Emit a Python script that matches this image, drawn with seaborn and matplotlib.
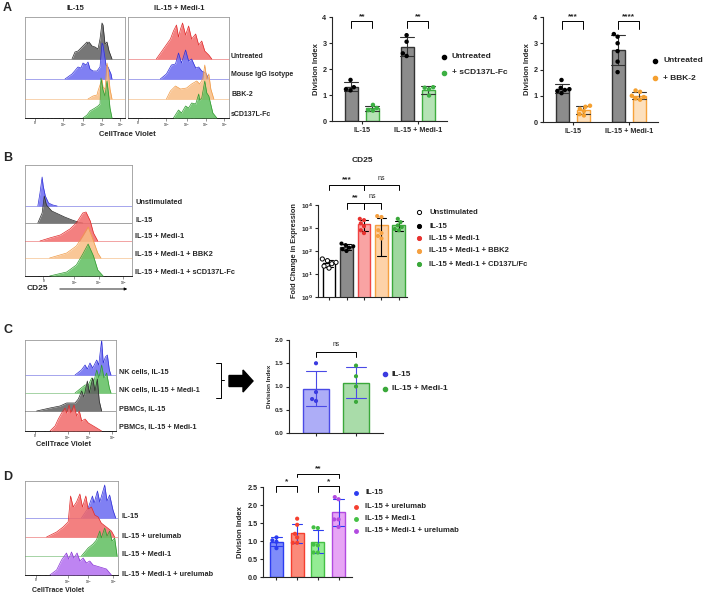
import numpy as np
import pandas as pd
import seaborn as sns
import matplotlib.pyplot as plt

sns.set_theme(style="ticks")
plt.rcParams['font.family'] = ['Liberation Sans', 'DejaVu Sans']
plt.rcParams['font.weight'] = 'bold'
plt.rcParams['axes.labelweight'] = 'bold'
plt.rcParams['axes.linewidth'] = 0.8

# ---------------- data: bar charts ----------------
groups = ["IL-15", "IL-15 + Medi-1"]

# A, left bar chart (Untreated vs + sCD137L-Fc)
a1_labels = ["Untreated", "+ sCD137L-Fc"]
a1_untr = [[1.58, 1.30, 1.22, 1.18], [3.30, 3.05, 2.60, 2.50]]
a1_trt = [[0.62, 0.50, 0.42, 0.40], [1.30, 1.28, 1.22, 0.98]]

# A, right bar chart (Untreated vs + BBK-2)
a2_labels = ["Untreated", "+ BBK-2"]
a2_untr = [[1.60, 1.30, 1.25, 1.22, 1.18, 1.10], [3.35, 3.25, 3.00, 2.70, 2.30, 1.90]]
a2_trt = [[0.62, 0.58, 0.50, 0.42, 0.30, 0.25], [1.20, 1.15, 1.00, 0.95, 0.90, 0.85]]

# B, CD25 fold change
b_conds = ["Unstimulated", "IL-15", "IL-15 + Medi-1", "IL-15 + Medi-1 + BBK2",
           "IL-15 + Medi-1 + CD137L/Fc"]
b_vals = [[45, 38, 32, 28, 22, 18],
          [210, 180, 160, 140, 120, 100],
          [2500, 2200, 1600, 1200, 800, 600],
          [3300, 3000, 800, 600, 450, 350],
          [2500, 1800, 1300, 1100, 900, 800]]

# C, division index
c_conds = ["IL-15", "IL-15 + Medi-1"]
c_vals = [[1.50, 0.88, 0.73, 0.69], [1.45, 1.22, 1.00, 0.67]]

# D, division index
d_conds = ["IL-15", "IL-15 + urelumab", "IL-15 + Medi-1", "IL-15 + Medi-1 + urelumab"]
d_vals = [[1.10, 1.02, 0.98, 0.80],
          [1.62, 1.45, 1.20, 1.10, 0.95, 0.95],
          [1.38, 1.36, 0.90, 0.88, 0.68, 0.68],
          [2.22, 2.16, 1.60, 1.60, 1.39]]

# ---------------- data: flow histograms (x = % of channel axis, h = height) ----------------
a_rows = ["Untreated", "Mouse IgG Isotype", "BBK-2", "sCD137L-Fc"]
a_il15_x = [[47, 50, 53, 57, 59, 62, 63, 64, 67, 70, 73, 75, 77, 78, 80, 82, 84, 87],
            [40, 47, 53, 56, 58, 61, 63, 65, 68, 72, 75, 77, 78, 81, 83, 86, 87],
            [63, 68, 72, 73, 75, 77, 78, 80, 82, 83, 85, 87],
            [58, 62, 65, 70, 73, 75, 76, 78, 80, 82, 84, 85, 87]]
a_il15_h = [[0, 7, 8, 12, 14, 17, 15, 17, 13, 12, 10, 20, 36, 34, 15, 17, 8, 0],
            [0, 5, 12, 11, 16, 14, 17, 10, 8, 8, 12, 36, 34, 14, 12, 5, 0],
            [0, 3, 4, 8, 14, 20, 12, 10, 36, 30, 10, 0],
            [0, 3, 7, 10, 12, 14, 40, 28, 22, 37, 20, 10, 0]]
a_medi_x = [[28, 35, 42, 45, 48, 50, 52, 54, 57, 60, 63, 67, 70, 73, 76, 80, 83],
            [32, 38, 43, 47, 50, 53, 57, 60, 63, 67, 70, 73, 77, 80],
            [38, 42, 47, 52, 58, 63, 68, 71, 74, 76, 78, 80, 82, 85],
            [45, 50, 53, 57, 60, 63, 67, 70, 71, 73, 76, 78, 80, 84, 88]]
a_medi_h = [[0, 10, 20, 28, 34, 22, 30, 36, 24, 33, 20, 25, 14, 18, 8, 4, 0],
            [0, 5, 14, 15, 26, 16, 29, 18, 20, 11, 12, 8, 6, 0],
            [0, 8, 13, 10, 11, 15, 18, 15, 20, 34, 20, 25, 10, 0],
            [0, 8, 5, 12, 10, 15, 14, 24, 18, 20, 37, 25, 22, 5, 0]]

b_rows = ["Unstimulated", "IL-15", "IL-15 + Medi-1", "IL-15 + Medi-1 + BBK2",
          "IL-15 + Medi-1 + sCD137L-Fc"]
b_x = [[12, 14, 16, 17, 19, 22, 26, 30],
       [12, 16, 18, 20, 25, 31, 37, 44, 51, 54],
       [14, 23, 33, 42, 48, 54, 57, 61, 64, 67, 68],
       [23, 39, 48, 54, 59, 64, 68, 71],
       [23, 39, 48, 54, 59, 64, 68, 73]]
b_h = [[0, 13, 29, 20, 10, 3, 1, 0],
       [0, 10, 27, 18, 12, 9, 6, 3, 0.5, 0],
       [0, 3, 6, 12, 18, 28, 29, 20, 8, 2, 0],
       [0, 5, 12, 22, 31, 17, 5, 0],
       [0, 4, 11, 22, 32, 20, 6, 0]]

c_rows = ["NK cells, IL-15", "NK cells, IL-15 + Medi-1", "PBMCs, IL-15", "PBMCs, IL-15 + Medi-1"]
c_x = [[55, 62, 66, 68.5, 71.4, 74.4, 78.8, 81, 84.2, 86, 88.3, 90.5, 92.7, 94.5],
       [55, 60.4, 66, 69.5, 73.3, 75.8, 78.8, 81.3, 84.2, 86.8, 89.7, 92.7, 94.5],
       [12.8, 27.5, 38.5, 45.8, 51.3, 55, 58.6, 62.3, 64.8, 68.5, 70.7, 74.4, 76.9, 79.5,
        81.6, 84.2],
       [27.5, 33, 36.6, 40.3, 44, 45.8, 48.4, 50.5, 53.8, 56.8, 59.7, 62.3, 66, 69.6, 73.3,
        77, 82.4, 84.2]]
c_h = [[0, 5, 10, 6, 12, 7, 15, 10, 35, 12, 18, 20, 5, 0],
       [0, 4, 8, 8, 15, 12, 23, 15, 28, 15, 20, 5, 0],
       [0, 3, 5, 8, 8, 8, 12, 20, 14, 30, 18, 33, 20, 32, 10, 0],
       [0, 5, 12, 18, 23, 18, 26, 18, 26, 15, 20, 10, 12, 8, 6, 4, 1, 0]]

d_rows = ["IL-15", "IL-15 + urelumab", "IL-15 + Medi-1", "IL-15 + Medi-1 + urelumab"]
d_x = [[60.7, 67.9, 72.5, 74.3, 77.9, 80.4, 85.7, 88.2, 91, 94.6, 97.5],
       [23.2, 34, 41, 46.4, 49, 51.8, 55.4, 59, 61.8, 65.4, 67.9, 71.4, 75, 78.6, 82, 87.5,
        92.9, 96.4],
       [60.7, 67.9, 73.2, 76.8, 80.4, 82, 85.7, 88.2, 91, 93.6, 96.4, 99],
       [26.8, 34, 39.3, 44.6, 47, 50, 52.5, 56, 59, 62.5, 66, 69.6, 73.2, 76.8, 80.4, 87.5,
        92.9]]
d_h = [[0, 10, 22, 15, 27, 16, 33, 17, 23, 8, 0],
       [0, 5, 10, 15, 41, 30, 35, 43, 30, 41, 28, 30, 22, 20, 14, 10, 6, 0],
       [0, 8, 12, 16, 25, 18, 28, 20, 25, 15, 18, 0],
       [0, 5, 15, 22, 16, 23, 17, 22, 14, 17, 12, 14, 10, 9, 8, 6, 0]]

# ---------------- styling ----------------
HC = {'gray': ('#5f5f5f', '#2a2a2a'), 'blue': ('#6a6af2', '#2e2ed6'),
      'red': ('#f26a6a', '#e02a2a'), 'orange': ('#f8bd85', '#f09a45'),
      'green': ('#5fbf5f', '#2f9a2f'), 'purple': ('#b36ff0', '#8a35d6')}

W, H = 704, 594
fig = plt.figure(figsize=(W / 100, H / 100), dpi=100)


def px_axes(x0, y0, x1, y1):
    return fig.add_axes([x0 / W, 1 - y1 / H, (x1 - x0) / W, (y1 - y0) / H])


def hist_stack(box, xs, hs, bases, colors, ticks, ticklabels):
    ax = px_axes(*box)
    height = box[3] - box[1]
    for i, (x, h, b, c) in enumerate(zip(xs, hs, bases, colors)):
        fc, ec = HC[c]
        ax.axhline(b, color=ec, lw=0.5, alpha=0.6, zorder=1 + i)
        top = np.asarray(h) + b
        ax.fill_between(x, b, top, color=fc, alpha=0.85, lw=0, zorder=2 + i)
        ax.plot(x, top, color=ec, lw=0.5, zorder=2 + i)
    ax.set_xlim(0, 100)
    ax.set_ylim(0, height)
    ax.set_yticks([])
    ax.set_xticks(ticks, ticklabels)
    # logicle-like minor ticks between the decade marks
    minors = []
    for a, b in zip(ticks[:-1], ticks[1:]):
        minors += list(np.log10(np.arange(2, 10)) * (b - a) + a)
    minors += [ticks[0] - 4, ticks[0] - 2, ticks[0] + 2, ticks[0] + 4]
    ax.set_xticks(minors, minor=True)
    ax.tick_params(axis='x', which='major', labelsize=2.2, length=2, width=0.4, pad=0.5,
                   colors='#444444')
    ax.tick_params(axis='x', which='minor', length=1, width=0.3, colors='#444444')
    for s in ax.spines.values():
        s.set_color('#9a9a9a')
        s.set_linewidth(0.6)
    ax.spines['bottom'].set_color('black')
    return ax


def recolor(ax, faces, edges):
    centers = []
    for cont, fc, ec in zip(ax.containers, faces, edges):
        for p in cont:
            p.set_facecolor(fc)
            p.set_edgecolor(ec)
            p.set_linewidth(1.0)
            centers.append((p.get_x() + p.get_width() / 2, ec))
    for ln in ax.lines:
        xm = np.mean(ln.get_xdata())
        c = min(centers, key=lambda t: abs(t[0] - xm))[1]
        ln.set_color(c)
        ln.set_linewidth(0.8)


def style_bar(ax, fs=5.2):
    sns.despine(ax=ax)
    ax.tick_params(axis='both', labelsize=fs, width=0.8, length=2.5, pad=1.5)
    ax.set_xlabel('')
    for lab in ax.get_xticklabels() + ax.get_yticklabels():
        lab.set_fontweight('bold')


def bracket(ax, x0, x1, y, yl0, yl1, label, yt, fs=6, weight='bold'):
    ax.plot([x0, x0, x1, x1], [yl0, y, y, yl1], color='black', lw=0.7, clip_on=False)
    ax.text((x0 + x1) / 2, yt, label, ha='center', va='center', fontsize=fs,
            fontweight=weight, clip_on=False)


def long_df(names, vals):
    rows = []
    for n, v in zip(names, vals):
        for y in v:
            rows.append({'cond': n, 'val': y})
    return pd.DataFrame(rows)


# overlay axis in pixel coordinates for free text
ov = fig.add_axes([0, 0, 1, 1], zorder=10)
ov.set_xlim(0, W)
ov.set_ylim(H, 0)
ov.axis('off')

# ---------------- panel A ----------------
hist_stack((25, 17, 125, 118), a_il15_x, a_il15_h, [59, 39, 19, 0],
           ['gray', 'blue', 'orange', 'green'],
           [10, 38, 58, 77, 95], ['0', '10$^3$', '10$^4$', '10$^5$', '10$^6$'])
hist_stack((128, 17, 229, 118), a_medi_x, a_medi_h, [59, 39, 19, 0],
           ['red', 'blue', 'orange', 'green'],
           [10, 38, 58, 77, 95], ['0', '10$^3$', '10$^4$', '10$^5$', '10$^6$'])
ov.text(75, 9, "IL-15", ha='center', va='center', fontsize=5.5)
ov.text(179, 9, "IL-15 + Medi-1", ha='center', va='center', fontsize=5.5)
for lab, y in zip(a_rows, [56, 75, 95, 114]):
    ov.text(231, y, lab, ha='left', va='center', fontsize=5)
ov.text(127, 134, "CellTrace Violet", ha='center', va='center', fontsize=5.5)


def a_bar(box, labels, untr, trt, pcolor, face, edge, star_l, star_r, lbl_y):
    ax = px_axes(*box)
    rows = []
    for g, u, t in zip(groups, untr, trt):
        for y in u:
            rows.append({'group': g, 'treat': labels[0], 'val': y})
        for y in t:
            rows.append({'group': g, 'treat': labels[1], 'val': y})
    df = pd.DataFrame(rows)
    sns.barplot(data=df, x='group', y='val', hue='treat', order=groups, hue_order=labels,
                errorbar='sd', capsize=0.5, width=0.75, gap=0.38, legend=False, ax=ax,
                err_kws={'linewidth': 0.8})
    recolor(ax, ['#8c8c8c', face], ['#333333', edge])
    sns.swarmplot(data=df, x='group', y='val', hue='treat', order=groups, hue_order=labels,
                  dodge=True, palette=['black', pcolor], size=3.2, legend=False, ax=ax)
    ax.set_ylim(0, 4)
    ax.set_yticks([0, 1, 2, 3, 4])
    ax.set_xlim(-0.53, 1.52)
    ax.set_ylabel("Division Index", fontsize=5.5, labelpad=2)
    style_bar(ax)
    for gx, s in zip([0, 1], [star_l, star_r]):
        bracket(ax, gx - 0.19, gx + 0.19, 3.85, 3.56, 3.56, s, 4.02)
    for lab, c, y in zip(labels, ['black', pcolor], lbl_y):
        ov.plot([box[2] - 3], [y], 'o', ms=3, color=c)
        ov.text(box[2] + 5, y, lab, ha='left', va='center', fontsize=6)
    return ax


a_bar((332, 17, 447, 121), a1_labels, a1_untr, a1_trt, '#3cb043', '#b5e3b5', '#3fae3f',
      '**', '**', [57, 73])
a_bar((543, 17, 658, 122), a2_labels, a2_untr, a2_trt, '#f5a030', '#fde0bd', '#f6a23a',
      '***', '****', [61, 78])

# ---------------- panel B ----------------
hist_stack((25, 165, 132, 276), b_x, b_h, [70, 53, 35, 18, 0],
           ['blue', 'gray', 'red', 'orange', 'green'],
           [17, 46, 69, 92], ['0', '10$^3$', '10$^4$', '10$^5$'])
for lab, y in zip(b_rows, [203, 220, 237, 254, 272]):
    ov.text(135, y, lab, ha='left', va='center', fontsize=5.3)
ov.text(27, 289, "CD25", ha='left', va='center', fontsize=6)
ov.annotate('', xy=(130, 289), xytext=(57, 289),
            arrowprops=dict(arrowstyle='-|>', lw=0.6, color='black', mutation_scale=4))

ax = px_axes(318, 205, 407, 297)
dfb = long_df(b_conds, b_vals)
b_face = ['white', '#8c8c8c', '#f9a3a3', '#fdd2a8', '#9fd89f']
b_edge = ['black', '#333333', '#f04545', '#f5a040', '#3aa83a']
b_pts = ['white', 'black', '#e8322f', '#f5a040', '#3aa83a']
sns.barplot(data=dfb, x='cond', y='val', hue='cond', order=b_conds, hue_order=b_conds,
            errorbar='sd', capsize=0.5, width=0.74, legend=False, ax=ax, err_kws={'linewidth': 0.8})
recolor(ax, b_face, b_edge)
ax.set_yscale('log')
sns.swarmplot(data=dfb, x='cond', y='val', hue='cond', order=b_conds, hue_order=b_conds,
              palette=b_pts, size=3, legend=False, ax=ax)
ax.collections[0].set_edgecolor('black')
ax.collections[0].set_linewidth(0.7)
ax.set_ylim(1, 1e4)
ax.set_xlim(-0.63, 4.46)
ax.set_yticks([1, 10, 100, 1000, 10000], ['10$^0$', '10$^1$', '10$^2$', '10$^3$', '10$^4$'])
ax.minorticks_off()
ax.set_xticklabels([])
ax.set_ylabel("Fold Change in Expression", fontsize=5.3, labelpad=2)
style_bar(ax, fs=4.5)
ov.text(362, 161, "CD25", ha='center', va='center', fontsize=6)
bracket(ax, 0, 2, 10 ** 4.87, 10 ** 4.65, 10 ** 4.65, '***', 10 ** 5.1)
bracket(ax, 2, 4, 10 ** 4.87, 10 ** 4.65, 10 ** 4.65, 'ns', 10 ** 5.15, fs=5, weight='normal')
bracket(ax, 1, 2, 10 ** 4.09, 10 ** 3.83, 10 ** 3.83, '**', 10 ** 4.3)
bracket(ax, 2, 3, 10 ** 4.09, 10 ** 3.83, 10 ** 3.83, 'ns', 10 ** 4.37, fs=5, weight='normal')
for lab, c, y in zip(b_conds, b_pts, [212, 226, 238, 251, 264]):
    ov.plot([419], [y], 'o', ms=3, color=c, mec='black' if c == 'white' else c, mew=0.7)
    ov.text(429, y, lab, ha='left', va='center', fontsize=5.5)

# ---------------- panel C ----------------
hist_stack((25, 340, 116, 431), c_x, c_h, [56, 38, 20, 0],
           ['blue', 'green', 'gray', 'red'],
           [11, 47, 70, 96], ['0', '10$^3$', '10$^4$', '10$^5$'])
for lab, y in zip(c_rows, [372, 390, 409, 427]):
    ov.text(119, y, lab, ha='left', va='center', fontsize=5.2)
ov.text(63, 445, "CellTrace Violet", ha='center', va='center', fontsize=5.3)
ov.plot([216, 221, 221, 216], [363, 363, 398, 398], color='black', lw=0.7)
ov.plot([221, 224], [380, 380], color='black', lw=0.7)
ov.arrow(229, 381, 24, 0, width=11, head_width=22, head_length=10,
         length_includes_head=True, color='black')

ax = px_axes(289, 340, 383, 433)
dfc = long_df(c_conds, c_vals)
c_edge = ['#4a4ae6', '#3aa83a']
sns.barplot(data=dfc, x='cond', y='val', hue='cond', order=c_conds, hue_order=c_conds,
            errorbar='sd', capsize=0.5, width=0.65, legend=False, ax=ax, err_kws={'linewidth': 0.8})
recolor(ax, ['#adadf7', '#a9dca9'], c_edge)
sns.swarmplot(data=dfc, x='cond', y='val', hue='cond', order=c_conds, hue_order=c_conds,
              palette=['#3b3be0', '#3aa83a'], size=3, legend=False, ax=ax)
ax.set_ylim(0, 2)
ax.set_yticks([0, 0.5, 1.0, 1.5, 2.0], ['0.0', '0.5', '1.0', '1.5', '2.0'])
ax.set_xlim(-0.675, 1.675)
ax.set_xticklabels([])
ax.set_ylabel("Division Index", fontsize=4.6, labelpad=2)
style_bar(ax, fs=4.5)
bracket(ax, 0, 1, 1.74, 1.63, 1.63, 'ns', 1.9, fs=4.8, weight='normal')
for lab, c, y in zip(c_conds, ['#3b3be0', '#3aa83a'], [374, 389]):
    ov.plot([385], [y], 'o', ms=3, color=c)
    ov.text(392, y, lab, ha='left', va='center', fontsize=6)

# ---------------- panel D ----------------
hist_stack((25, 481, 118, 575), d_x, d_h, [57, 38, 19, 0],
           ['blue', 'red', 'green', 'purple'],
           [12, 46, 68, 95], ['0', '10$^3$', '10$^4$', '10$^5$'])
for lab, y in zip(d_rows, [516, 536, 555, 574]):
    ov.text(122, y, lab, ha='left', va='center', fontsize=5.3)
ov.text(58, 590, "CellTrace Violet", ha='center', va='center', fontsize=5)

ax = px_axes(263, 487, 352, 577)
dfd = long_df(d_conds, d_vals)
d_face = ['#7f8cfa', '#fb8a7a', '#94ec94', '#e7a5f5']
d_edge = ['#2c3cf0', '#f53f2f', '#44c044', '#b24ae0']
sns.barplot(data=dfd, x='cond', y='val', hue='cond', order=d_conds, hue_order=d_conds,
            errorbar='sd', capsize=0.5, width=0.63, legend=False, ax=ax, err_kws={'linewidth': 0.8})
recolor(ax, d_face, d_edge)
sns.swarmplot(data=dfd, x='cond', y='val', hue='cond', order=d_conds, hue_order=d_conds,
              palette=d_edge, size=3, legend=False, ax=ax)
ax.set_ylim(0, 2.5)
ax.set_yticks([0, 0.5, 1.0, 1.5, 2.0, 2.5], ['0.0', '0.5', '1.0', '1.5', '2.0', '2.5'])
ax.set_xlim(-0.65, 3.65)
ax.set_xticklabels([])
ax.set_ylabel("Division Index", fontsize=5.5, labelpad=2)
style_bar(ax, fs=5.2)
bracket(ax, 0, 1, 2.53, 2.36, 2.36, '*', 2.66)
bracket(ax, 2, 3, 2.53, 2.36, 2.36, '*', 2.66)
bracket(ax, 1, 3, 2.86, 2.77, 2.74, '**', 3.0)
for lab, c, y in zip(d_conds, d_edge, [493, 507, 519, 531]):
    ov.plot([356], [y], 'o', ms=2.5, color=c)
    ov.text(365, y, lab, ha='left', va='center', fontsize=5.5)

# panel letters
for let, y in zip("ABCD", [8, 158, 330, 477]):
    ov.text(3, y, let, ha='left', va='center', fontsize=9)

fig.savefig("out.png", dpi=100)
